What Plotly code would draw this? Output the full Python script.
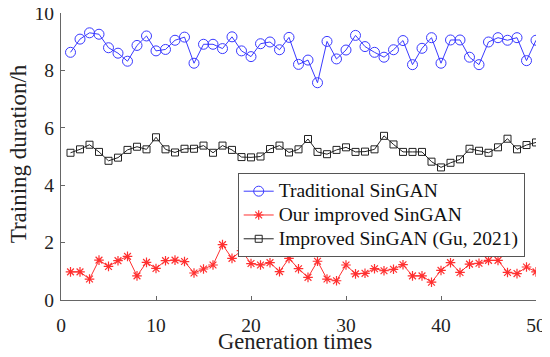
import plotly.graph_objects as go

x_vals = list(range(1, 51))

traditional = [8.63, 9.09, 9.31, 9.26, 8.79, 8.60, 8.32, 8.87, 9.20, 8.68,
               8.73, 9.05, 9.16, 8.25, 8.91, 8.91, 8.76, 9.17, 8.68, 8.48,
               8.93, 8.99, 8.72, 9.15, 8.21, 8.36, 7.57, 9.01, 8.40, 8.71,
               9.22, 8.83, 8.63, 8.46, 8.72, 9.04, 8.20, 8.77, 9.14, 8.25,
               9.06, 9.06, 8.46, 8.20, 8.99, 9.14, 9.05, 9.14, 8.34, 9.05]

ours = [0.98, 0.98, 0.73, 1.39, 1.17, 1.37, 1.52, 0.84, 1.31, 1.10,
        1.37, 1.39, 1.34, 0.94, 1.08, 1.22, 1.93, 1.45, 1.72, 1.27,
        1.22, 1.30, 0.99, 1.45, 1.09, 0.79, 1.35, 0.73, 0.67, 1.22,
        0.91, 0.93, 1.09, 1.02, 1.07, 1.23, 0.84, 0.84, 0.62, 1.03,
        1.30, 0.96, 1.25, 1.28, 1.38, 1.38, 0.96, 0.92, 1.15, 0.98]

gu2021 = [5.13, 5.25, 5.41, 5.16, 4.85, 4.96, 5.23, 5.34, 5.25, 5.67,
          5.25, 5.14, 5.27, 5.27, 5.38, 5.13, 5.38, 5.23, 4.98, 4.97,
          5.00, 5.26, 5.38, 5.14, 5.25, 5.61, 5.16, 5.08, 5.23, 5.32,
          5.16, 5.17, 5.25, 5.72, 5.42, 5.16, 5.16, 5.16, 4.82, 4.62,
          4.78, 4.90, 5.27, 5.20, 5.13, 5.32, 5.62, 5.25, 5.40, 5.49]

series_names = ["Traditional SinGAN", "Our improved SinGAN", "Improved SinGAN (Gu, 2021)"]
x_ticks = [0, 10, 20, 30, 40, 50]
y_ticks = [0, 2, 4, 6, 8, 10]
x_title = "Generation times"
y_title = "Training duration/h"

FONT = "Liberation Serif, Times New Roman, serif"


def leg(name):
    return '<span style="font-size:19.5px">' + name + '</span>'


fig = go.Figure()
fig.add_trace(go.Scatter(
    x=x_vals, y=traditional, name=leg(series_names[0]), mode="lines+markers",
    line=dict(color="#3a3aff", width=1),
    marker=dict(symbol="circle-open", size=10, color="#3a3aff", line=dict(width=1, color="#3a3aff"))))
fig.add_trace(go.Scatter(
    x=x_vals, y=ours, name=leg(series_names[1]), mode="lines+markers",
    line=dict(color="#ff3030", width=1),
    marker=dict(symbol="asterisk-open", size=8, color="#ff3030", line=dict(width=1.2, color="#ff3030"))))
fig.add_trace(go.Scatter(
    x=x_vals, y=gu2021, name=leg(series_names[2]), mode="lines+markers",
    line=dict(color="#222222", width=1),
    marker=dict(symbol="square-open", size=7, color="#222222", line=dict(width=1, color="#222222"))))

# page body has an 8px default margin, so the figure is 8px smaller and margins shifted
fig.update_layout(
    width=542, height=349,
    margin=dict(l=53, r=14, t=5, b=57, autoexpand=False),
    paper_bgcolor="white", plot_bgcolor="white",
    font=dict(family=FONT, size=18, color="#222"),
    showlegend=True,
    legend=dict(x=0.372, y=0.4415, xanchor="left", yanchor="top",
                bgcolor="white", bordercolor="#555", borderwidth=1,
                font=dict(family=FONT, size=16, color="#111"),
                tracegroupgap=0, itemwidth=30),
    xaxis=dict(range=[0, 50], tickvals=x_ticks, ticks="inside", ticklen=4,
               tickcolor="#666", showline=True, linecolor="#666", linewidth=1,
               showgrid=False, zeroline=False, mirror=False, automargin=False,
               ticklabelstandoff=8, ticklabeloverflow="allow",
               tickfont=dict(family=FONT, size=19.5, color="#222")),
    yaxis=dict(range=[0, 10], tickvals=y_ticks, ticks="inside", ticklen=4,
               tickcolor="#666", showline=True, linecolor="#666", linewidth=1,
               showgrid=False, zeroline=False, mirror=False, automargin=False,
               ticklabelstandoff=2, ticklabeloverflow="allow",
               tickfont=dict(family=FONT, size=19.5, color="#222")),
    annotations=[
        dict(text=x_title, xref="paper", yref="paper", x=(295 - 61) / 475, y=-0.146,
             xanchor="center", yanchor="middle", showarrow=False,
             font=dict(family=FONT, size=22.5, color="#222")),
        dict(text=y_title, xref="paper", yref="paper", x=-0.089, y=0.51,
             xanchor="center", yanchor="middle", showarrow=False, textangle=-90,
             font=dict(family=FONT, size=23, color="#222")),
    ],
)

fig.write_html("out.html")
